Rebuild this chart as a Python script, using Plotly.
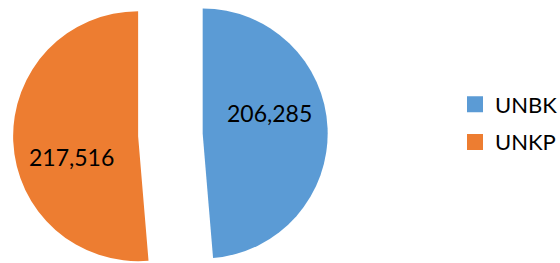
import math
import plotly.graph_objects as go

# ---- data ----
labels = ["UNBK", "UNKP"]
values = [206285, 217516]
colors = ["#5B9BD5", "#ED7D31"]

# ---- layout constants (pixels) ----
W, H = 560, 263
CX0, CY0 = 170.4, 134.8   # centre of the un-exploded pie
R = 125.0                 # pie radius
EXPLODE = 32.3            # how far each slice is pulled out
LABEL_DIST = 0.56         # label distance from slice apex, fraction of R
LABEL_TURN = -15          # label angle offset from slice mid-angle (deg)
FONT = "Lato"

total = sum(values)
fig = go.Figure()
annotations = []

start = 0.0
for i, (lab, v, c) in enumerate(zip(labels, values, colors)):
    frac = v / total
    mid = (start + frac / 2) * 2 * math.pi   # clockwise from 12 o'clock
    start += frac
    cx = CX0 + EXPLODE * math.sin(mid)
    cy = CY0 - EXPLODE * math.cos(mid)
    dom_x = [(cx - R) / W, (cx + R) / W]
    dom_y = [1 - (cy + R) / H, 1 - (cy - R) / H]
    slice_colors = [c if j == i else "rgba(0,0,0,0)" for j in range(len(values))]
    fig.add_trace(go.Pie(
        labels=labels, values=values, sort=False,
        direction="clockwise", rotation=0,
        marker=dict(colors=slice_colors, line=dict(width=0)),
        textinfo="none",
        domain=dict(x=dom_x, y=dom_y),
        showlegend=False, hoverinfo="skip",
    ))
    la = mid + math.radians(LABEL_TURN)
    lx = cx + LABEL_DIST * R * math.sin(la)
    ly = cy - LABEL_DIST * R * math.cos(la)
    annotations.append(dict(
        x=lx / W, y=1 - ly / H, xref="paper", yref="paper",
        text=f"{v:,}", showarrow=False, xanchor="center", yanchor="middle",
        font=dict(family=FONT, size=23, color="#000000"),
    ))

# legend entries
for lab, c in zip(labels, colors):
    fig.add_trace(go.Scatter(
        x=[None], y=[None], mode="markers", name=lab, legendgroup=lab,
        marker=dict(symbol="square", size=16, color=c),
        hoverinfo="skip",
    ))

fig.update_layout(
    width=W, height=H,
    margin=dict(l=0, r=0, t=0, b=0, pad=0, autoexpand=False),
    paper_bgcolor="white", plot_bgcolor="white",
    xaxis=dict(visible=False), yaxis=dict(visible=False),
    annotations=annotations,
    legend=dict(
        x=455 / W, y=1 - 123.5 / H, xanchor="left", yanchor="middle",
        font=dict(family=FONT, size=22, color="#000000"),
        tracegroupgap=6, bgcolor="rgba(0,0,0,0)",
    ),
)

fig.write_html("out.html", config={"displayModeBar": False},
               post_script="document.body.style.margin='0';")
